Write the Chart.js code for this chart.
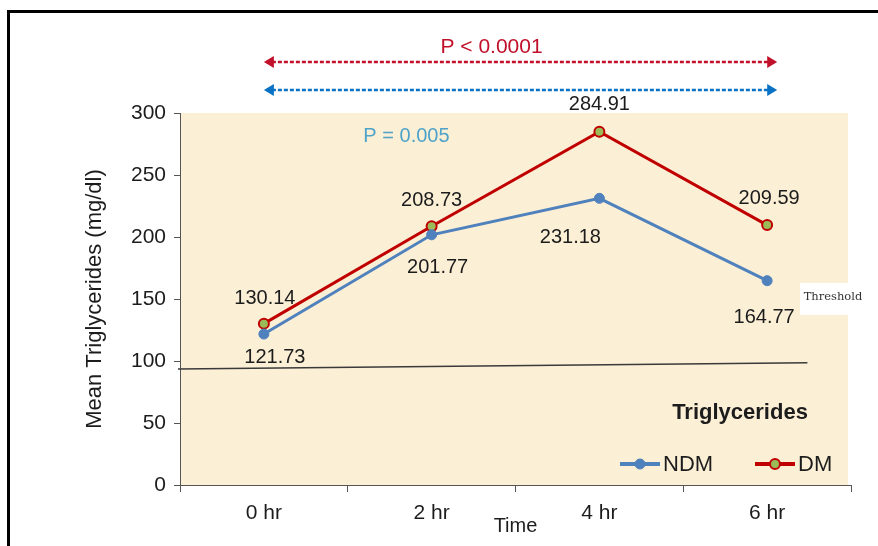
<!DOCTYPE html>
<html>
<head>
<meta charset="utf-8">
<script src="https://cdn.jsdelivr.net/npm/chart.js@4/dist/chart.umd.min.js"></script>
<style>
  html, body { margin: 0; padding: 0; background: #ffffff; }
  #wrap { position: relative; width: 878px; height: 546px; }
</style>
</head>
<body>
<div id="wrap"><canvas id="chart" width="878" height="546"></canvas></div>
<script>
// Time points and mean triglycerides (mg/dl) per group
const categories = ['0 hr', '2 hr', '4 hr', '6 hr'];
const ndmValues = [121.73, 201.77, 231.18, 164.77];
const dmValues = [130.14, 208.73, 284.91, 209.59];

// Value axis
const yMin = 0;
const yMax = 300;
const yStep = 50;

// Threshold reference line (level at its left and right end)
const thresholdLevels = [93.5, 98.5];
const thresholdLabel = 'Threshold';

// Significance annotations
const pOverall = 'P < 0.0001';
const pNdm = 'P = 0.005';
const legendTitle = 'Triglycerides';

const FONT = "'Liberation Sans', Arial, sans-serif";
const BLUE = '#4f81bd';
const RED = '#c00000';
const TEXT = '#1c1c1c';

// value-label placement: DM above its points, NDM below
const dmLabelOffsets = [[1, -25], [0, -26], [0, -27], [2, -27]];
const ndmLabelOffsets = [[11, 23], [6, 33], [-29, 39], [-3, 37]];

const decor = {
  id: 'decor',
  beforeDraw(chart) {
    const { ctx, chartArea: a } = chart;
    ctx.save();
    // plot-area fill
    ctx.fillStyle = '#fbefd6';
    ctx.fillRect(a.left, a.top, a.right - a.left - 3, a.bottom - a.top);
    // outer frame
    ctx.strokeStyle = '#000000';
    ctx.lineWidth = 3;
    ctx.beginPath();
    ctx.moveTo(8.5, chart.height + 2);
    ctx.lineTo(8.5, 11.5);
    ctx.lineTo(chart.width + 2, 11.5);
    ctx.stroke();
    ctx.restore();
  },
  beforeDatasetsDraw(chart) {
    const { ctx, chartArea: a, scales: { x, y } } = chart;
    ctx.save();
    ctx.strokeStyle = '#3a3a3a';
    ctx.lineWidth = 1.5;
    ctx.beginPath();
    ctx.moveTo(a.left - 2, y.getPixelForValue(thresholdLevels[0]));
    ctx.lineTo(x.getPixelForValue(3.24), y.getPixelForValue(thresholdLevels[1]));
    ctx.stroke();
    ctx.restore();
  },
  afterDatasetsDraw(chart) {
    const { ctx, chartArea: a, scales: { x, y } } = chart;
    ctx.save();

    // value labels
    ctx.font = '20px ' + FONT;
    ctx.fillStyle = TEXT;
    ctx.textAlign = 'center';
    ctx.textBaseline = 'middle';
    const metaDm = chart.getDatasetMeta(1);
    const metaNdm = chart.getDatasetMeta(0);
    dmValues.forEach((v, i) => {
      const p = metaDm.data[i];
      ctx.fillText(v.toFixed(2), p.x + dmLabelOffsets[i][0], p.y + dmLabelOffsets[i][1]);
    });
    ndmValues.forEach((v, i) => {
      const p = metaNdm.data[i];
      ctx.fillText(v.toFixed(2), p.x + ndmLabelOffsets[i][0], p.y + ndmLabelOffsets[i][1]);
    });

    // dashed double arrows spanning the time course
    const x0 = x.getPixelForValue(0);
    const x1 = x.getPixelForValue(3.06);
    const drawArrow = (yy, color) => {
      ctx.strokeStyle = color;
      ctx.fillStyle = color;
      ctx.lineWidth = 2.5;
      ctx.setLineDash([4, 2]);
      ctx.beginPath();
      ctx.moveTo(x0 + 8, yy);
      ctx.lineTo(x1 - 8, yy);
      ctx.stroke();
      ctx.setLineDash([]);
      ctx.beginPath();
      ctx.moveTo(x0, yy); ctx.lineTo(x0 + 10, yy - 6); ctx.lineTo(x0 + 10, yy + 6); ctx.closePath();
      ctx.fill();
      ctx.beginPath();
      ctx.moveTo(x1, yy); ctx.lineTo(x1 - 10, yy - 6); ctx.lineTo(x1 - 10, yy + 6); ctx.closePath();
      ctx.fill();
    };
    drawArrow(a.top - 51, '#c0102a');
    drawArrow(a.top - 23, '#0a72c4');

    ctx.font = '21px ' + FONT;
    ctx.fillStyle = '#c0102a';
    ctx.textAlign = 'center';
    ctx.fillText(pOverall, (x0 + x1) / 2 - 29, a.top - 66);

    ctx.fillStyle = '#4fa3c9';
    ctx.font = '20px ' + FONT;
    ctx.fillText(pNdm, x.getPixelForValue(0.85), y.getPixelForValue(281));

    // legend
    ctx.fillStyle = TEXT;
    ctx.font = 'bold 22px ' + FONT;
    ctx.fillText(legendTitle, 740, 413);
    const items = [
      { ds: chart.data.datasets[0], lx: 620 },
      { ds: chart.data.datasets[1], lx: 755 }
    ];
    items.forEach(({ ds, lx }) => {
      const ly = 464;
      ctx.strokeStyle = ds.borderColor;
      ctx.lineWidth = 4;
      ctx.beginPath();
      ctx.moveTo(lx, ly); ctx.lineTo(lx + 40, ly);
      ctx.stroke();
      ctx.beginPath();
      ctx.arc(lx + 20, ly, 5, 0, Math.PI * 2);
      ctx.fillStyle = ds.pointBackgroundColor;
      ctx.fill();
      ctx.lineWidth = ds.pointBorderWidth;
      ctx.strokeStyle = ds.pointBorderColor;
      ctx.stroke();
      ctx.fillStyle = TEXT;
      ctx.font = '22px ' + FONT;
      ctx.textAlign = 'left';
      ctx.fillText(ds.label, lx + 43, ly + 1);
      ctx.textAlign = 'center';
    });
    ctx.restore();
  },
  afterDraw(chart) {
    const { ctx } = chart;
    ctx.save();
    ctx.fillStyle = '#ffffff';
    ctx.fillRect(800, 283, 64, 32);
    ctx.fillStyle = '#333333';
    ctx.font = "11.5px 'DejaVu Serif', 'Liberation Serif', serif";
    ctx.textAlign = 'center';
    ctx.textBaseline = 'middle';
    ctx.fillText(thresholdLabel, 833, 297);
    ctx.restore();
  }
};

new Chart(document.getElementById('chart'), {
  type: 'line',
  data: {
    labels: categories,
    datasets: [
      {
        label: 'NDM',
        data: ndmValues,
        borderColor: BLUE,
        borderWidth: 3,
        pointRadius: 5,
        pointBackgroundColor: BLUE,
        pointBorderColor: BLUE,
        pointBorderWidth: 1,
        tension: 0
      },
      {
        label: 'DM',
        data: dmValues,
        borderColor: RED,
        borderWidth: 3,
        pointRadius: 5,
        pointBackgroundColor: '#9bbb59',
        pointBorderColor: RED,
        pointBorderWidth: 2,
        tension: 0
      }
    ]
  },
  options: {
    responsive: false,
    animation: false,
    layout: { padding: { left: 76, top: 113, right: 27, bottom: 8 } },
    plugins: { legend: { display: false }, tooltip: { enabled: false } },
    scales: {
      x: {
        offset: true,
        grid: { offset: true, drawOnChartArea: false, drawTicks: true, tickLength: 7, color: '#555555' },
        border: { color: '#555555', width: 1 },
        ticks: { color: TEXT, font: { family: FONT, size: 21 }, padding: 9 },
        title: { display: true, text: 'Time', color: TEXT, font: { family: FONT, size: 20 }, padding: { top: 0, bottom: 0 } },
        afterFit(s) { s.height = 53; }
      },
      y: {
        min: yMin,
        max: yMax,
        ticks: { stepSize: yStep, color: TEXT, font: { family: FONT, size: 21 }, padding: 8 },
        grid: { drawOnChartArea: false, drawTicks: true, tickLength: 6, color: '#555555' },
        border: { color: '#555555', width: 1 },
        title: { display: true, text: 'Mean Triglycerides (mg/dl)', color: TEXT, font: { family: FONT, size: 22 }, padding: { top: 6, bottom: 0 } },
        afterFit(s) { s.width = 104; }
      }
    }
  },
  plugins: [decor]
});
</script>
</body>
</html>
